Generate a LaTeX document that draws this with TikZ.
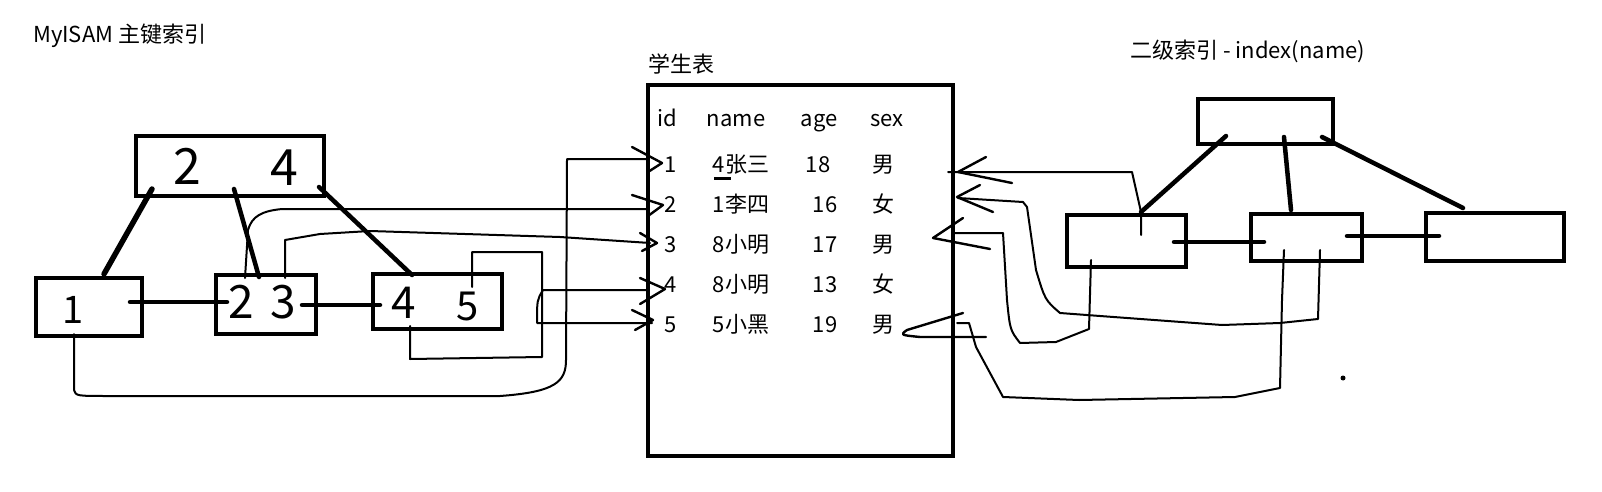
\documentclass[tikz,border=0pt]{standalone}
\usepackage{fontspec}
\setmainfont{Noto Sans CJK SC}
\begin{document}
\begin{tikzpicture}[x=1pt,y=-1pt]
\tikzset{
  box/.style={draw, line width=4.5pt, inner sep=0pt},
  heavy/.style={line width=4.5pt, line cap=round},
  pen/.style={line width=2pt, line cap=round, line join=round},
  tipstroke/.style={line width=2.4pt, line cap=round, line join=round},
  lbl/.style={font=\fontsize{22}{26}\selectfont, inner sep=0pt},
  hand/.style={font=\fontsize{#1}{#1}\selectfont, inner sep=0pt},
}
\useasboundingbox (0,0) rectangle (1602,492);
\fill[white] (0,0) rectangle (1602,492);

% titles
\node[lbl, anchor=base west] (t1) at (33,43) {MyISAM 主键索引};
\node[lbl, anchor=base west] (t2) at (1130,59) {二级索引 - index(name)};
\node[lbl, anchor=base west] (title) at (648,73) {学生表};

% ---------- left B+tree (MyISAM primary index)
\node[box, minimum width=188pt, minimum height=60pt] (T) at (230,166) {};
\node[box, minimum width=106pt, minimum height=58pt] (B1) at (89,307) {};
\node[box, minimum width=100pt, minimum height=59pt] (B23) at (266,304.5) {};
\node[box, minimum width=129pt, minimum height=55pt] (B45) at (437.5,301.5) {};

\node[hand=50] (d2) at (187,166) {2};
\node[hand=50] (d4) at (284,168) {4};
\node[hand=38] (d1) at (73,310) {1};
\node[hand=46] (e2) at (241,302) {2};
\node[hand=46] (e3) at (283,302) {3};
\node[hand=44] (f4) at (404,303) {4};
\node[hand=40] (f5) at (468,306) {5};

\coordinate (Ta) at (152,189); \coordinate (B1a) at (104,274);
\coordinate (Tb) at (234,189); \coordinate (B23a) at (259,277);
\coordinate (Tc) at (319,187); \coordinate (B45a) at (412,275);
\coordinate (B1r) at (130,302); \coordinate (B23l) at (227,302);
\coordinate (B23r) at (302,305); \coordinate (B45l) at (380,305);
\draw[heavy, line width=5.5pt] (Ta) -- (B1a);
\draw[heavy] (Tb) -- (B23a);
\draw[heavy] (Tc) -- (B45a);
\draw[heavy] (B1r) -- (B23l);
\draw[heavy] (B23r) -- (B45l);

% ---------- table
\node[box, minimum width=305pt, minimum height=371pt] (TB) at (800.5,270.5) {};
\node[lbl, anchor=base] (hid) at (667,126) {id};
\node[lbl, anchor=base] (hname) at (736,126) {name};
\node[lbl, anchor=base] (hage) at (819,126) {age};
\node[lbl, anchor=base] (hsex) at (887,126) {sex};
\foreach \i/\yy/\nm/\ax/\ag/\sx in {1/172/4张三/818/18/男, 2/212/1李四/825/16/女, 3/252/8小明/825/17/男, 4/292/8小明/825/13/女, 5/332/5小黑/825/19/男}{
  \node[lbl, anchor=base] (id\i) at (671,\yy) {\i};
  \node[lbl, anchor=base] (nm\i) at (741,\yy) {\nm};
  \node[lbl, anchor=base] (ag\i) at (\ax,\yy) {\ag};
  \node[lbl, anchor=base] (sx\i) at (883,\yy) {\sx};
}
\coordinate (u1) at (714,178); \coordinate (u2) at (731,178);
\draw[line width=3pt] (u1) -- (u2);

% ---------- left pointers to the table
\coordinate (p1s) at (74,334); \coordinate (p1e) at (647,159);
\draw[pen] (p1s) -- (74,390) .. controls (76,396) .. (110,396) -- (500,396)
  .. controls (555,392) and (566,382) .. (566,360) -- (567,159) -- (p1e);
\draw[tipstroke] (632,147) -- (662,163) -- (648,172);

\coordinate (p2s) at (245,278); \coordinate (p2e) at (647,209);
\draw[pen] (p2s) -- (248,230) .. controls (252,216) and (262,211) .. (282,209) -- (p2e);
\draw[tipstroke] (632,195) -- (663,205) -- (648,216);

\coordinate (p3s) at (285,278); \coordinate (p3e) at (650,243);
\draw[pen] (p3s) -- (285,240) -- (320,234) -- (370,231) -- (560,237) -- (p3e);
\draw[tipstroke] (640,233) -- (657,243) -- (642,251);

\coordinate (p5s) at (472,287); \coordinate (p4s) at (410,326);
\draw[pen] (p5s) -- (472,252) -- (542,252) -- (542,357) -- (410,359) -- (p4s);

\coordinate (p4e) at (647,290); \coordinate (p5e) at (652,323);
\draw[pen] (p4e) -- (543,290) .. controls (537,300) .. (537,323) -- (p5e);
\draw[tipstroke] (640,278) -- (665,289) -- (640,304);
\draw[tipstroke] (632,310) -- (653,320) -- (635,330);

% ---------- right secondary index
\node[box, minimum width=135pt, minimum height=45pt] (RT) at (1265.5,121.5) {};
\node[box, minimum width=119pt, minimum height=52pt] (RA) at (1126.5,241) {};
\node[box, minimum width=111pt, minimum height=47pt] (RB) at (1306.5,237.5) {};
\node[box, minimum width=138pt, minimum height=48pt] (RC) at (1495,237) {};

\coordinate (RTa) at (1226,136); \coordinate (RAt) at (1141,212);
\coordinate (RTb) at (1284,137); \coordinate (RBt) at (1291,210);
\coordinate (RTc) at (1322,137); \coordinate (RCt) at (1463,208);
\coordinate (RAr) at (1174,242); \coordinate (RBl) at (1264,242);
\coordinate (RBr) at (1347,236); \coordinate (RCl) at (1439,236);
\draw[heavy] (RTa) -- (RAt);
\draw[heavy] (RTb) -- (RBt);
\draw[heavy] (RTc) -- (RCt);
\draw[heavy] (RAr) -- (RBl);
\draw[heavy] (RBr) -- (RCl);

\coordinate (q1s) at (1141,235); \coordinate (q1e) at (948,172);
\draw[pen] (q1s) -- (RAt) -- (1132,172) -- (q1e);
\draw[tipstroke] (986,157) -- (958,172) -- (1012,183);

\coordinate (q2s) at (1320,250); \coordinate (q2e) at (958,198);
\draw[pen] (q2s) -- (1318,319) -- (1280,323) -- (1222,325) -- (1100,316) -- (1060,313)
  .. controls (1045,300) .. (1036,270) -- (1027,207) -- (1023,202) -- (q2e);
\draw[tipstroke] (980,185) -- (957,197) -- (993,212);

\coordinate (q3s) at (1091,260); \coordinate (q3e) at (953,233);
\draw[pen] (q3s) -- (1089,329) -- (1056,342) -- (1020,343)
  .. controls (1010,330) .. (1007,300) -- (1003,233) -- (q3e);
\draw[tipstroke] (963,218) -- (933,238) -- (990,249);

\coordinate (q5s) at (1284,250); \coordinate (q5e) at (957,323);
\draw[pen] (q5s) -- (1282,300) -- (1280,388) -- (1235,397) -- (1079,400) -- (1003,397)
  -- (976,347) -- (969,323) -- (q5e);
\draw[tipstroke] (963,313) -- (907,330) .. controls (900,335) .. (920,337) -- (986,337);

\node[circle, fill, inner sep=0pt, minimum size=5pt] (dot) at (1343,378) {};
\end{tikzpicture}
\end{document}
